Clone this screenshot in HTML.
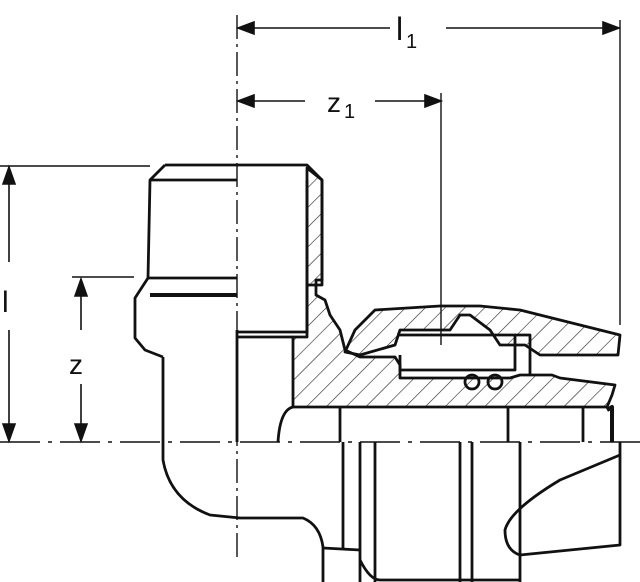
<!DOCTYPE html>
<html><head><style>html,body{margin:0;padding:0;background:#fff}svg{display:block}</style></head><body>
<svg width="640" height="582" viewBox="0 0 640 582" xmlns="http://www.w3.org/2000/svg">
<defs>
<pattern id="h" width="14" height="14" patternUnits="userSpaceOnUse" patternTransform="rotate(45)"><line x1="0" y1="0" x2="0" y2="14" stroke="#222" stroke-width="1.2"/></pattern>
</defs>
<g stroke="#111" fill="none" stroke-width="1.6">
<line x1="237" y1="15" x2="237" y2="560" stroke-dasharray="24,5,3,5" stroke-width="1.4"/>
<line x1="0" y1="442" x2="640" y2="442" stroke-dasharray="40,8,4,8" stroke-width="1.6"/>
<line x1="239" y1="28" x2="390" y2="28"/>
<path d="M254,22 L238,28 L254,34Z" fill="#111"/>
<line x1="446" y1="28" x2="618" y2="28"/>
<path d="M603,22 L619,28 L603,34Z" fill="#111"/>
<line x1="620" y1="20" x2="620" y2="325" stroke-width="1.4"/>
<line x1="239" y1="101" x2="305" y2="101"/>
<path d="M254,95 L238,101 L254,107Z" fill="#111"/>
<line x1="375" y1="101" x2="440" y2="101"/>
<path d="M425,95 L441,101 L425,107Z" fill="#111"/>
<line x1="441" y1="93" x2="441" y2="345" stroke-width="1.4"/>
<line x1="0" y1="166" x2="150" y2="166"/>
<line x1="9" y1="168" x2="9" y2="262"/>
<path d="M3,184 L9,167 L15,184Z" fill="#111"/>
<line x1="9" y1="330" x2="9" y2="440"/>
<path d="M3,424 L9,441 L15,424Z" fill="#111"/>
<line x1="72" y1="277" x2="134" y2="277"/>
<line x1="81" y1="279" x2="81" y2="330"/>
<path d="M75,296 L81,279 L87,296Z" fill="#111"/>
<line x1="81" y1="384" x2="81" y2="440"/>
<path d="M75,424 L81,441 L87,424Z" fill="#111"/>
</g>
<g font-family="Liberation Sans, sans-serif" fill="#111">
<text x="396" y="40" font-size="32">l</text><text x="406" y="48" font-size="20">1</text>
<text x="327" y="112" font-size="28">z</text><text x="344" y="118" font-size="20">1</text>
<text x="2" y="312" font-size="30">l</text>
<text x="69" y="374" font-size="28">z</text>
</g>
<g stroke="#111" fill="none" stroke-width="2.8" stroke-linejoin="round">
<path d="M293,337 L293,407 L607,407 L612,395 L615,385 L560,378 L552,375 L520,375 L510,378 L400,378 L400,365 L395,357 L360,357 L345,350 L340,330 L330,315 L325,300 L316,295 L316,280 L322,280 L322,180 L307,168 L307,337 Z" fill="url(#h)"/>
<path d="M345,352 L355,330 L375,310 L440,306 L480,306 L520,310 L560,320 L600,330 L620,335 L618,355 L540,355 L525,345 L500,345 L490,330 L470,315 L460,315 L450,330 L400,330 L395,345 L360,355Z" fill="url(#h)"/>
<path d="M165,165 L307,165 L322,180 L322,285 L307,285 L307,332 L237,332"/>
<path d="M165,165 L150,180 L148,278 L135,298 L135,338 L145,350 L163,357"/>
<line x1="150" y1="180" x2="237" y2="180"/>
<line x1="148" y1="278" x2="237" y2="278"/>
<line x1="150" y1="295" x2="237" y2="295" stroke-width="4"/>
<line x1="307" y1="180" x2="307" y2="332"/>
<line x1="237" y1="330" x2="237" y2="442"/>
<line x1="293" y1="337" x2="237" y2="337"/>
<path d="M397,335 L515,335 L515,370 L400,370 L400,355"/>
<path d="M515,335 L530,335 L530,375"/>
<circle cx="472" cy="382" r="7"/><circle cx="495" cy="382" r="7"/>
<path d="M607,410 L612,407 L612,442" stroke-width="4"/>
<line x1="583" y1="407" x2="583" y2="442"/>
<path d="M163,357 L163,460 Q170,500 210,515 L240,518 L303,518 Q320,525 323,547 L323,582"/>
<path d="M293,407 Q280,410 278,442"/>
<line x1="340" y1="407" x2="340" y2="442"/>
<line x1="508" y1="407" x2="508" y2="442"/>
<line x1="343" y1="442" x2="343" y2="550"/>
<line x1="360" y1="442" x2="360" y2="582"/>
<line x1="375" y1="442" x2="375" y2="582"/>
<line x1="460" y1="442" x2="460" y2="582"/>
<line x1="472" y1="442" x2="472" y2="582"/>
<line x1="520" y1="442" x2="520" y2="582"/>
<path d="M323,548 L360,550"/>
<path d="M360,560 Q370,580 380,580 L520,580"/>
<path d="M620,442 L620,545 L520,555"/>
<path d="M620,455 L560,480 Q510,510 505,530 Q505,550 520,555"/>
</g>
</svg>
</body></html>
